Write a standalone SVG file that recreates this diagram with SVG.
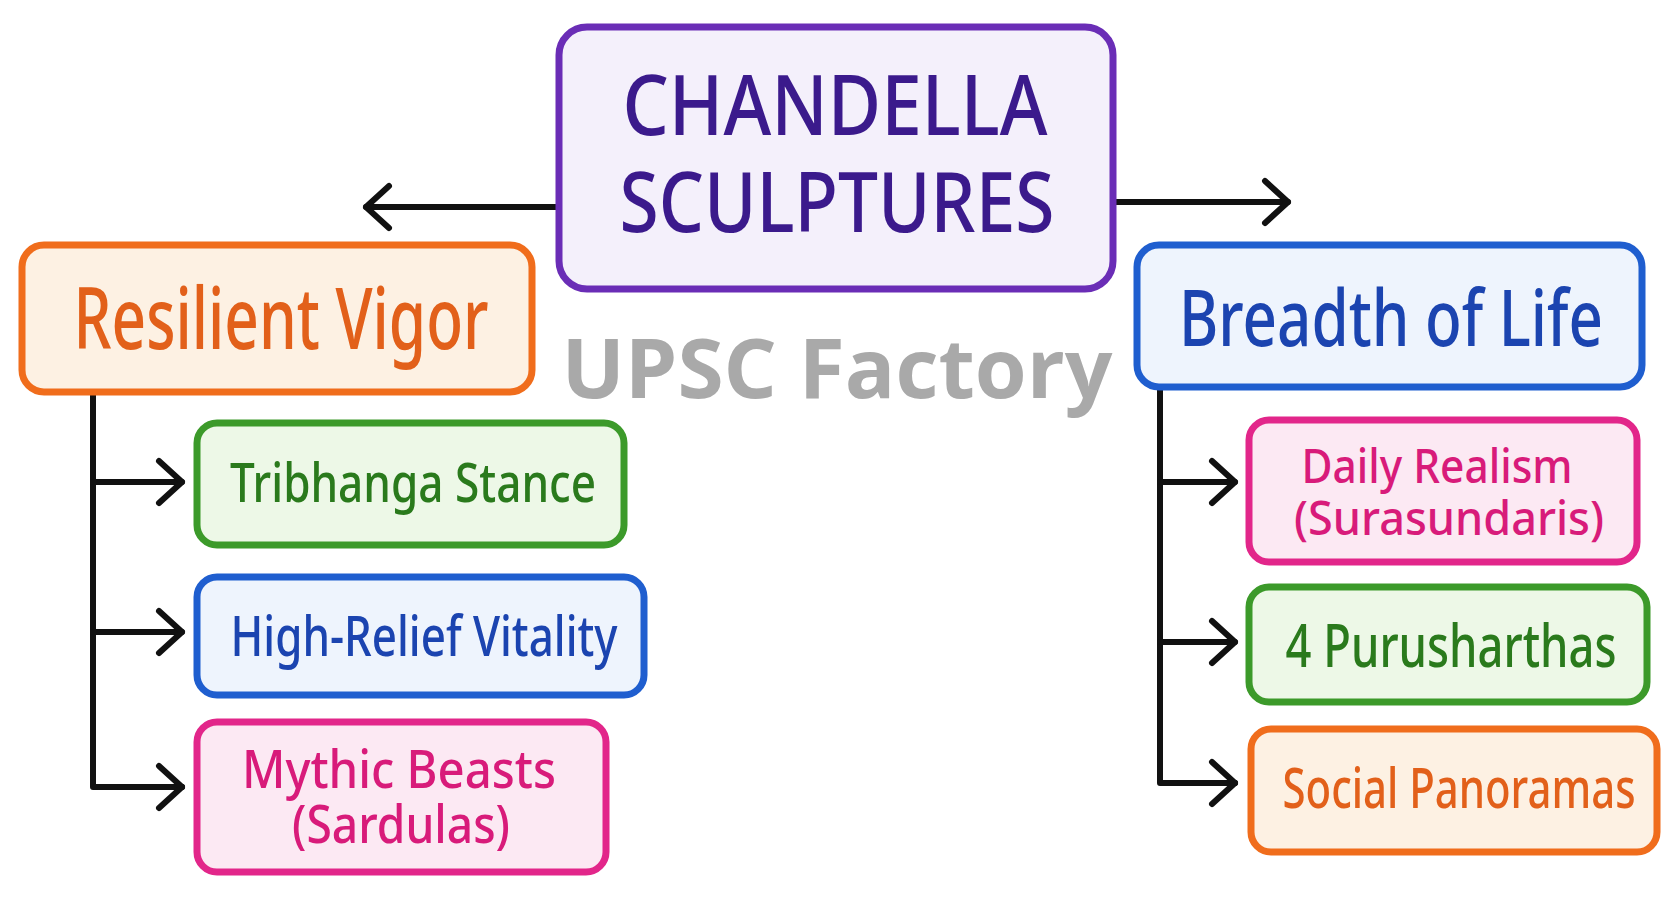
<svg xmlns="http://www.w3.org/2000/svg" width="1678" height="898" viewBox="0 0 1678 898">
<style>
.box{stroke-width:7;stroke-linejoin:round}
.t{font-family:"Noto Sans","Open Sans",sans-serif;text-anchor:middle;font-weight:500}
.conn{stroke:#111;stroke-width:6;fill:none;stroke-linecap:round;stroke-linejoin:round}
.purple{fill:#f4f0fb;stroke:#6a2db6}
.orange{fill:#fdf1e3;stroke:#f06d1c}
.blue{fill:#eef4fd;stroke:#1f5ecf}
.green{fill:#edf8e7;stroke:#3c9a2a}
.pink{fill:#fce9f3;stroke:#e2268a}
.tp{fill:#3b1a8c}
.to{fill:#e2601a}
.tb{fill:#1b44b0}
.tg{fill:#2a7a1c}
.tk{fill:#d81b7a}
</style>
<defs>
<marker id="chev" markerUnits="userSpaceOnUse" viewBox="-30 -26 36 52" markerWidth="36" markerHeight="52" refX="0" refY="0" orient="auto">
<path d="M-23,-21 L0,0 L-23,21" fill="none" stroke="#111" stroke-width="6" stroke-linecap="round" stroke-linejoin="round"/>
</marker>
</defs>
<rect width="1678" height="898" fill="#ffffff"/>
<g id="connectors">
<line class="conn" x1="559" y1="207" x2="366" y2="207" marker-end="url(#chev)"/>
<line class="conn" x1="1113" y1="202" x2="1288" y2="202" marker-end="url(#chev)"/>
<path class="conn" d="M93,392 V787 H182"/>
<line class="conn" x1="93" y1="482" x2="182" y2="482" marker-end="url(#chev)"/>
<line class="conn" x1="93" y1="632" x2="182" y2="632" marker-end="url(#chev)"/>
<line class="conn" x1="120" y1="787" x2="182" y2="787" marker-end="url(#chev)"/>
<path class="conn" d="M1160,387 V783 H1235"/>
<line class="conn" x1="1160" y1="482" x2="1235" y2="482" marker-end="url(#chev)"/>
<line class="conn" x1="1160" y1="642" x2="1235" y2="642" marker-end="url(#chev)"/>
<line class="conn" x1="1180" y1="783" x2="1235" y2="783" marker-end="url(#chev)"/>
</g>
<g id="root">
<rect class="box purple" x="559" y="27" width="554" height="262" rx="28"/>
<text class="t tp" x="835" y="135" font-size="84" textLength="425" lengthAdjust="spacingAndGlyphs">CHANDELLA</text>
<text class="t tp" x="837" y="232" font-size="84" textLength="435" lengthAdjust="spacingAndGlyphs">SCULPTURES</text>
</g>
<g id="resilient-vigor">
<rect class="box orange" x="22" y="245" width="510" height="147" rx="22"/>
<text class="t to" x="281" y="349" font-size="86" textLength="415" lengthAdjust="spacingAndGlyphs">Resilient Vigor</text>
</g>
<g id="breadth-of-life">
<rect class="box blue" x="1137" y="245" width="505" height="142" rx="22"/>
<text class="t tb" x="1391" y="346" font-size="78" textLength="424" lengthAdjust="spacingAndGlyphs">Breadth of Life</text>
</g>
<g id="tribhanga">
<rect class="box green" x="197" y="423" width="427" height="122" rx="20"/>
<text class="t tg" x="413" y="502" font-size="55" textLength="366" lengthAdjust="spacingAndGlyphs">Tribhanga Stance</text>
</g>
<g id="high-relief">
<rect class="box blue" x="197" y="577" width="447" height="118" rx="20"/>
<text class="t tb" x="424" y="656" font-size="57" textLength="387" lengthAdjust="spacingAndGlyphs">High-Relief Vitality</text>
</g>
<g id="mythic-beasts">
<rect class="box pink" x="197" y="722" width="409" height="150" rx="20"/>
<text class="t tk" x="399" y="788" font-size="52" textLength="314" lengthAdjust="spacingAndGlyphs">Mythic Beasts</text>
<text class="t tk" x="401" y="843" font-size="52" textLength="218" lengthAdjust="spacingAndGlyphs">(Sardulas)</text>
</g>
<g id="daily-realism">
<rect class="box pink" x="1249" y="420" width="388" height="142" rx="20"/>
<text class="t tk" x="1437" y="483" font-size="47" textLength="271" lengthAdjust="spacingAndGlyphs">Daily Realism</text>
<text class="t tk" x="1449" y="535" font-size="48" textLength="310" lengthAdjust="spacingAndGlyphs">(Surasundaris)</text>
</g>
<g id="purusharthas">
<rect class="box green" x="1249" y="587" width="398" height="115" rx="20"/>
<text class="t tg" x="1451" y="667" font-size="60" textLength="331" lengthAdjust="spacingAndGlyphs">4 Purusharthas</text>
</g>
<g id="social-panoramas">
<rect class="box orange" x="1251" y="729" width="406" height="123" rx="20"/>
<text class="t to" x="1459" y="808" font-size="57" textLength="353" lengthAdjust="spacingAndGlyphs">Social Panoramas</text>
</g>
<g id="watermark">
<text x="837" y="398" font-family="'Open Sans','Noto Sans',sans-serif" font-weight="700" font-size="82" text-anchor="middle" fill="#a9a9a9" textLength="551" lengthAdjust="spacingAndGlyphs">UPSC Factory</text>
</g>
</svg>
